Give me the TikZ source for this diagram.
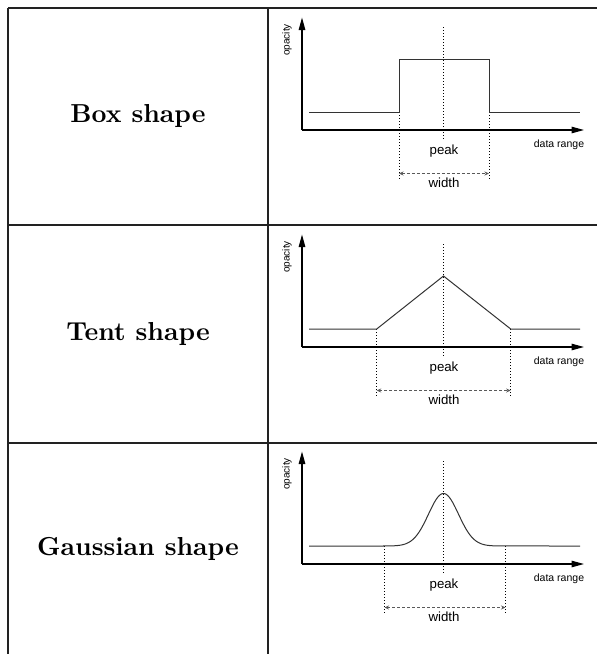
\documentclass[tikz,border=0pt]{standalone}
\usepackage{fontspec}
\usepackage{tikz}
\usetikzlibrary{arrows.meta}
\newfontfamily\plotfont{Liberation Sans}
\definecolor{framegray}{HTML}{222222}
\definecolor{curvegray}{HTML}{333333}

\begin{document}
\begin{tikzpicture}[x=0.4pt, y=-0.4pt,
    frame/.style={draw=framegray, line width=0.5pt},
    axis/.style={draw=black, line width=0.5pt, -{Triangle[length=5pt, width=2.6pt]}},
    curve/.style={draw=curvegray, line width=0.4pt},
    guide/.style={draw=black, line width=0.4pt, dash pattern=on 0.4pt off 0.8pt},
    span/.style={draw=black!65, line width=0.45pt, dash pattern=on 1.2pt off 0.8pt,
                 {Stealth[length=1.8pt, width=1.6pt]}-{Stealth[length=1.8pt, width=1.6pt]}},
    rowlabel/.style={font=\fontsize{10.4}{12}\selectfont\bfseries},
    plotlabel/.style={font=\plotfont\fontsize{5.3}{6}\selectfont, inner sep=0pt}]
  \useasboundingbox (0,0) rectangle (597,654);

  % table lines
  \draw[frame] (8,8) -- (597,8);
  \draw[frame] (8,225) -- (597,225);
  \draw[frame] (8,443) -- (597,443);
  \draw[frame] (8,8) -- (8,654);
  \draw[frame] (268,8) -- (268,654);

  % left column
  \node[rowlabel] (boxname) at (138,116) {Box shape};
  \node[rowlabel] (tentname) at (138,334) {Tent shape};
  \node[rowlabel] (gaussname) at (138,549) {Gaussian shape};

  % axes, guides and labels of each panel
  \foreach \r/\top/\lo/\hi in {1/8/399/489, 2/225/376.7/510.7, 3/442/384.5/505.5} {
    \begin{scope}[shift={(0,\top)}]
      \coordinate (origin\r) at (302,122);
      \coordinate (ytip\r) at (302,9.5);
      \coordinate (xtip\r) at (584,122);
      \draw[axis] (origin\r) -- (ytip\r);
      \draw[axis] (origin\r) -- (xtip\r);
      \draw[guide] (443.5,19) -- (443.5,131);
      \draw[guide] (\lo,104) -- (\lo,172);
      \draw[guide] (\hi,104) -- (\hi,172);
      \coordinate (spanl\r) at (\lo,165.5);
      \coordinate (spanr\r) at (\hi,165.5);
      \draw[span] (spanl\r) -- (spanr\r);
      \node[plotlabel] (peak\r) at (444,143.5) {peak};
      \node[plotlabel] (width\r) at (444,175) {width};
      \node[plotlabel, font=\plotfont\fontsize{4.2}{5}\selectfont] (range\r) at (559,137) {data range};
      \node[plotlabel, font=\plotfont\fontsize{4}{5}\selectfont, rotate=90] (opac\r) at (287,32) {opacity};
    \end{scope}
  }

  % box
  \draw[curve] (309,112) -- (399,112) -- (399,59.3) -- (489,59.3) -- (489,112) -- (580,112);
  % tent
  \draw[curve] (309,329) -- (376.7,329) -- (443.5,276) -- (510.7,329) -- (580,329);
  % gaussian
  \draw[curve] (309,546) -- (383.5,546)
    -- plot[domain=-60:60, samples=81, smooth] ({443.5+\x},{546-52.5*exp(-(\x*\x)/(2*15*15))})
    -- (580,546);
\end{tikzpicture}
\end{document}
